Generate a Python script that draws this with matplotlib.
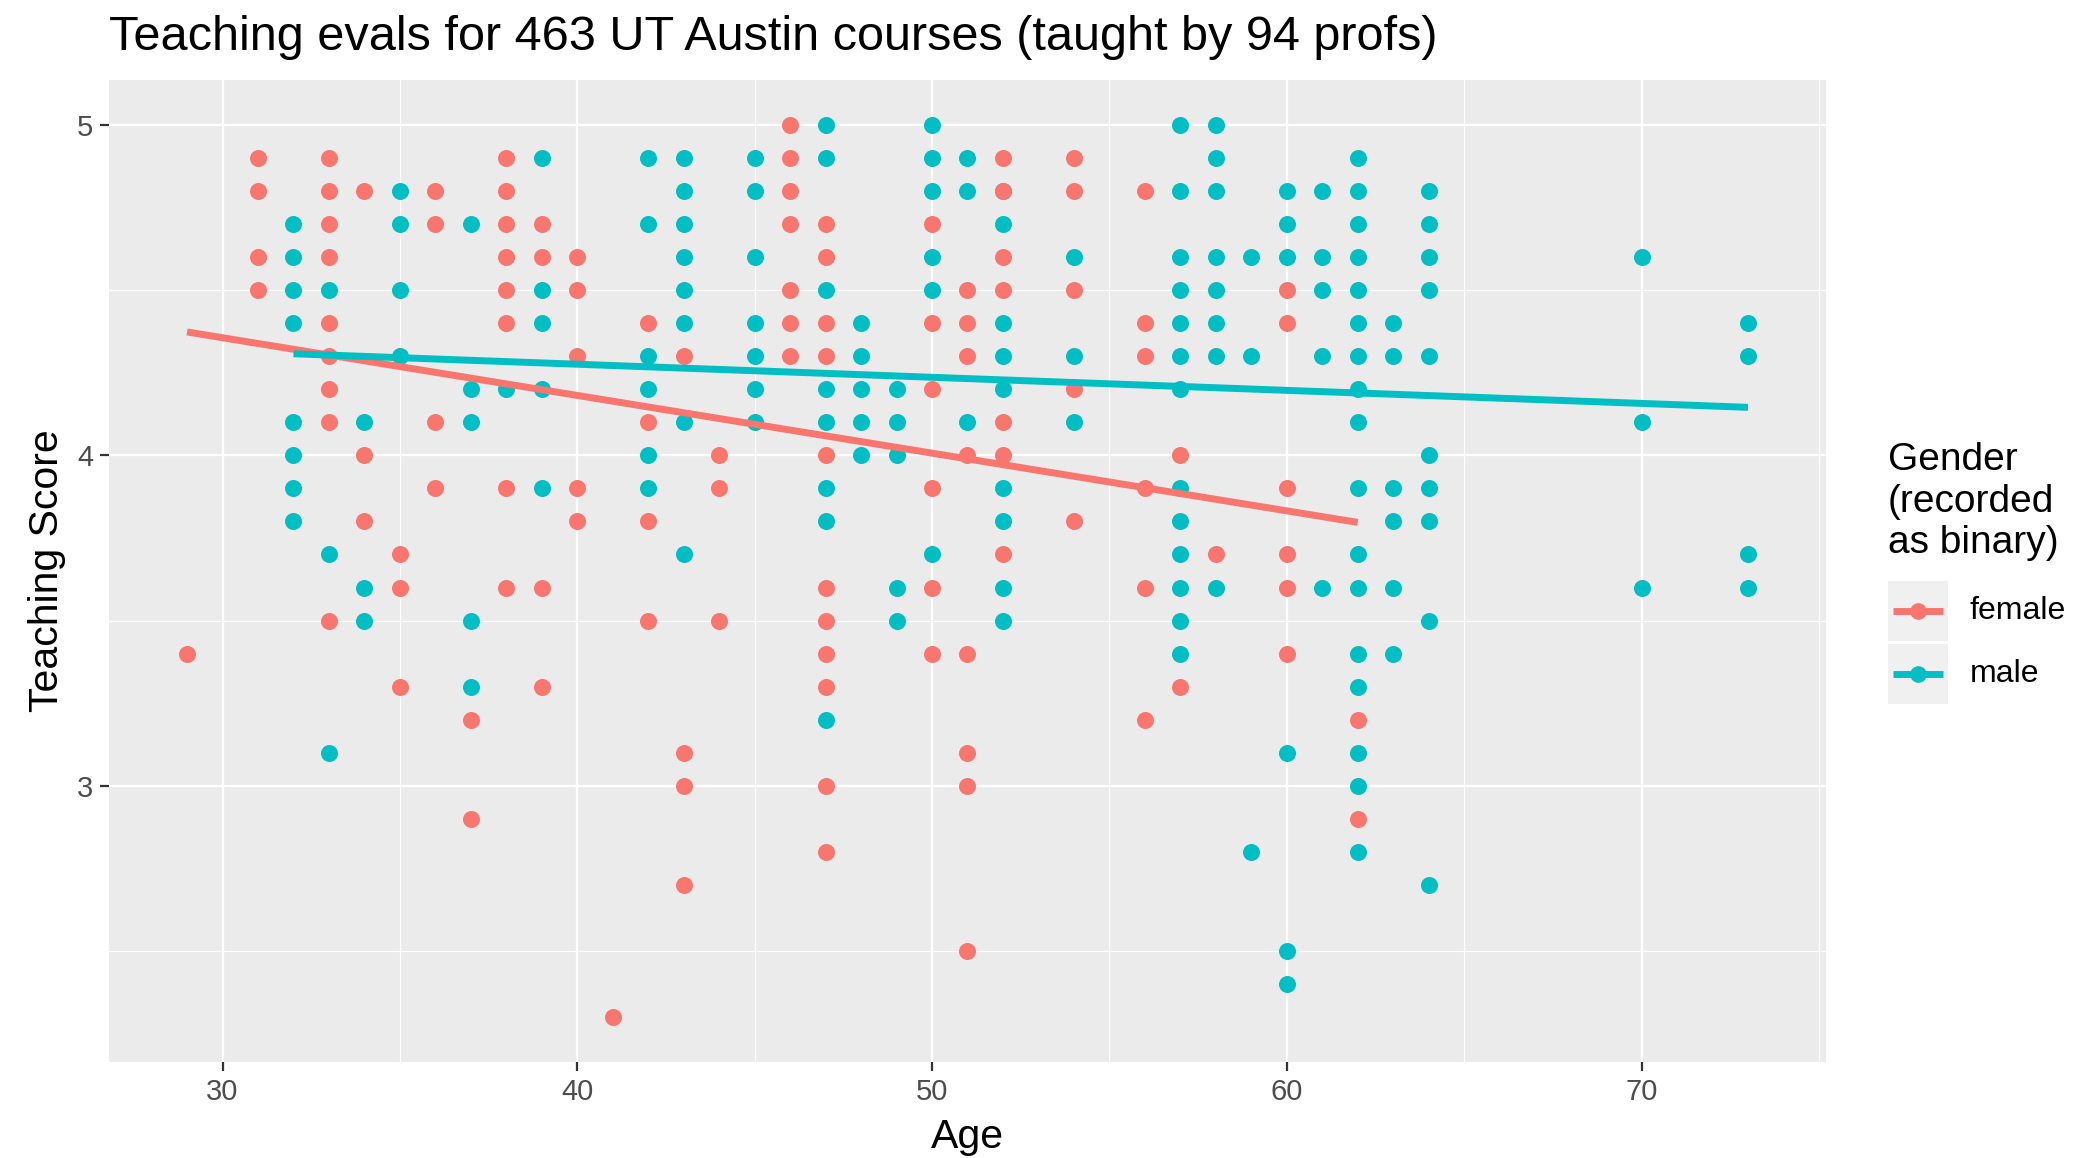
import numpy as np
import matplotlib
matplotlib.use("Agg")
import matplotlib.pyplot as plt
from matplotlib.lines import Line2D
from matplotlib.patches import Rectangle

plt.rcParams.update({
    "font.family": ["Liberation Sans", "DejaVu Sans"],
})

# --- data -----------------------------------------------------------------------------
female_age = [29,
              31, 31, 31, 31,
              33, 33, 33, 33, 33, 33, 33, 33, 33,
              34, 34, 34,
              35, 35, 35,
              36, 36, 36, 36,
              37, 37,
              38, 38, 38, 38, 38, 38, 38, 38,
              39, 39, 39, 39,
              40, 40, 40, 40, 40,
              41,
              42, 42, 42, 42,
              43, 43, 43, 43,
              44, 44, 44,
              46, 46, 46, 46, 46, 46, 46,
              47, 47, 47, 47, 47, 47, 47, 47, 47, 47, 47,
              50, 50, 50, 50, 50, 50,
              51, 51, 51, 51, 51, 51, 51, 51,
              52, 52, 52, 52, 52, 52, 52,
              54, 54, 54, 54, 54,
              56, 56, 56, 56, 56, 56,
              57, 57,
              58,
              60, 60, 60, 60, 60, 60,
              62, 62]
female_score = [3.4,
                4.9, 4.8, 4.6, 4.5,
                4.9, 4.8, 4.7, 4.6, 4.4, 4.3, 4.2, 4.1, 3.5,
                4.8, 4.0, 3.8,
                3.7, 3.6, 3.3,
                4.8, 4.7, 4.1, 3.9,
                3.2, 2.9,
                4.9, 4.8, 4.7, 4.6, 4.5, 4.4, 3.9, 3.6,
                4.7, 4.6, 3.6, 3.3,
                4.6, 4.5, 4.3, 3.9, 3.8,
                2.3,
                4.4, 4.1, 3.8, 3.5,
                4.3, 3.1, 3.0, 2.7,
                4.0, 3.9, 3.5,
                5.0, 4.9, 4.8, 4.7, 4.5, 4.4, 4.3,
                4.7, 4.6, 4.4, 4.3, 4.0, 3.6, 3.5, 3.4, 3.3, 3.0, 2.8,
                4.7, 4.4, 4.2, 3.9, 3.6, 3.4,
                4.5, 4.4, 4.3, 4.0, 3.4, 3.1, 3.0, 2.5,
                4.9, 4.8, 4.6, 4.5, 4.1, 4.0, 3.7,
                4.9, 4.8, 4.5, 4.2, 3.8,
                4.8, 4.4, 4.3, 3.9, 3.6, 3.2,
                4.0, 3.3,
                3.7,
                4.5, 4.4, 3.9, 3.7, 3.6, 3.4,
                3.2, 2.9]

male_age = [32, 32, 32, 32, 32, 32, 32, 32,
            33, 33, 33,
            34, 34, 34,
            35, 35, 35, 35,
            37, 37, 37, 37, 37,
            38,
            39, 39, 39, 39, 39,
            42, 42, 42, 42, 42, 42,
            43, 43, 43, 43, 43, 43, 43, 43,
            45, 45, 45, 45, 45, 45, 45,
            47, 47, 47, 47, 47, 47, 47, 47,
            48, 48, 48, 48, 48,
            49, 49, 49, 49, 49,
            50, 50, 50, 50, 50, 50,
            51, 51, 51,
            52, 52, 52, 52, 52, 52, 52, 52, 52,
            54, 54, 54,
            57, 57, 57, 57, 57, 57, 57, 57, 57, 57, 57, 57, 57,
            58, 58, 58, 58, 58, 58, 58, 58,
            59, 59, 59,
            60, 60, 60, 60, 60, 60,
            61, 61, 61, 61, 61,
            62, 62, 62, 62, 62, 62, 62, 62, 62, 62, 62, 62, 62, 62, 62, 62, 62,
            63, 63, 63, 63, 63, 63,
            64, 64, 64, 64, 64, 64, 64, 64, 64, 64,
            70, 70, 70,
            73, 73, 73, 73]
male_score = [4.7, 4.6, 4.5, 4.4, 4.1, 4.0, 3.9, 3.8,
              4.5, 3.7, 3.1,
              4.1, 3.6, 3.5,
              4.8, 4.7, 4.5, 4.3,
              4.7, 4.2, 4.1, 3.5, 3.3,
              4.2,
              4.9, 4.5, 4.4, 4.2, 3.9,
              4.9, 4.7, 4.3, 4.2, 4.0, 3.9,
              4.9, 4.8, 4.7, 4.6, 4.5, 4.4, 4.1, 3.7,
              4.9, 4.8, 4.6, 4.4, 4.3, 4.2, 4.1,
              5.0, 4.9, 4.5, 4.2, 4.1, 3.9, 3.8, 3.2,
              4.4, 4.3, 4.2, 4.1, 4.0,
              4.2, 4.1, 4.0, 3.6, 3.5,
              5.0, 4.9, 4.8, 4.6, 4.5, 3.7,
              4.9, 4.8, 4.1,
              4.8, 4.7, 4.4, 4.3, 4.2, 3.9, 3.8, 3.6, 3.5,
              4.6, 4.3, 4.1,
              5.0, 4.8, 4.6, 4.5, 4.4, 4.3, 4.2, 3.9, 3.8, 3.7, 3.6, 3.5, 3.4,
              5.0, 4.9, 4.8, 4.6, 4.5, 4.4, 4.3, 3.6,
              4.6, 4.3, 2.8,
              4.8, 4.7, 4.6, 3.1, 2.5, 2.4,
              4.8, 4.6, 4.5, 4.3, 3.6,
              4.9, 4.8, 4.7, 4.6, 4.5, 4.4, 4.3, 4.2, 4.1, 3.9, 3.7, 3.6, 3.4, 3.3, 3.1, 3.0, 2.8,
              4.4, 4.3, 3.9, 3.8, 3.6, 3.4,
              4.8, 4.7, 4.6, 4.5, 4.3, 4.0, 3.9, 3.8, 3.5, 2.7,
              4.6, 4.1, 3.6,
              4.4, 4.3, 3.7, 3.6]

# linear fits (endpoints)
female_fit_age = [29, 62]
female_fit_score = [4.373, 3.797]
male_fit_age = [32, 73]
male_fit_score = [4.307, 4.145]

x_ticks = [30, 40, 50, 60, 70]
x_minor = [35, 45, 55, 65, 75]
y_ticks = [3, 4, 5]
y_minor = [2.5, 3.5, 4.5]
groups = ["female", "male"]

# --- plot -----------------------------------------------------------------------------
W, H = 2081, 1158
fig = plt.figure(figsize=(W / 100, H / 100), dpi=100)
red = "#F8766D"
teal = "#00BFC4"

ax = fig.add_axes([109 / W, 1 - 1062 / H, (1826 - 109) / W, (1062 - 80) / H])
ax.set_facecolor("#EBEBEB")
for s in ax.spines.values():
    s.set_visible(False)

ax.set_xlim(26.8, 75.2)
ax.set_ylim(2.165, 5.135)
ax.set_xticks(x_ticks)
ax.set_xticks(x_minor, minor=True)
ax.set_yticks(y_ticks)
ax.set_yticks(y_minor, minor=True)
ax.grid(which="major", color="white", linewidth=1.6)
ax.grid(which="minor", color="white", linewidth=0.8)
ax.set_axisbelow(True)
ax.tick_params(which="major", length=6.5, width=1.6, color="#333333",
               labelcolor="#4D4D4D", labelsize=21, pad=5)
ax.tick_params(which="minor", length=0)

ax.scatter(male_age, male_score, s=150, color=teal, linewidths=0, zorder=3)
ax.scatter(female_age, female_score, s=150, color=red, linewidths=0, zorder=3)
ax.plot(female_fit_age, female_fit_score, color=red, linewidth=5, zorder=4,
        solid_capstyle="butt")
ax.plot(male_fit_age, male_fit_score, color=teal, linewidth=5, zorder=4,
        solid_capstyle="butt")

ax.set_xlabel("Age", fontsize=29.5, labelpad=9)
ax.set_ylabel("Teaching Score", fontsize=29.5, labelpad=8)
fig.text(109 / W, 1 - 50 / H, "Teaching evals for 463 UT Austin courses (taught by 94 profs)",
         fontsize=35, ha="left", va="baseline")

# --- legend ---------------------------------------------------------------------------
lx = 1888
fig.text(lx / W, 1 - 442 / H, "Gender\n(recorded\nas binary)", fontsize=28,
         ha="left", va="top", linespacing=1.2)
for i, (lab, col) in enumerate(zip(groups, [red, teal])):
    top = 581 + i * 63
    fig.patches.append(Rectangle((lx / W, 1 - (top + 60) / H), 60 / W, 60 / H,
                                 transform=fig.transFigure, facecolor="#F0F0F0",
                                 edgecolor="none"))
    cy = 1 - (top + 30) / H
    fig.lines.append(Line2D([(lx + 5) / W, (lx + 55) / W], [cy, cy],
                            transform=fig.transFigure, color=col, linewidth=5,
                            solid_capstyle="butt"))
    fig.lines.append(Line2D([(lx + 30) / W], [cy], transform=fig.transFigure,
                            marker="o", markersize=12, color=col, markeredgewidth=0))
    fig.text(1970 / W, cy, lab, fontsize=23, ha="left", va="center")

fig.savefig("out.png", dpi=100)
